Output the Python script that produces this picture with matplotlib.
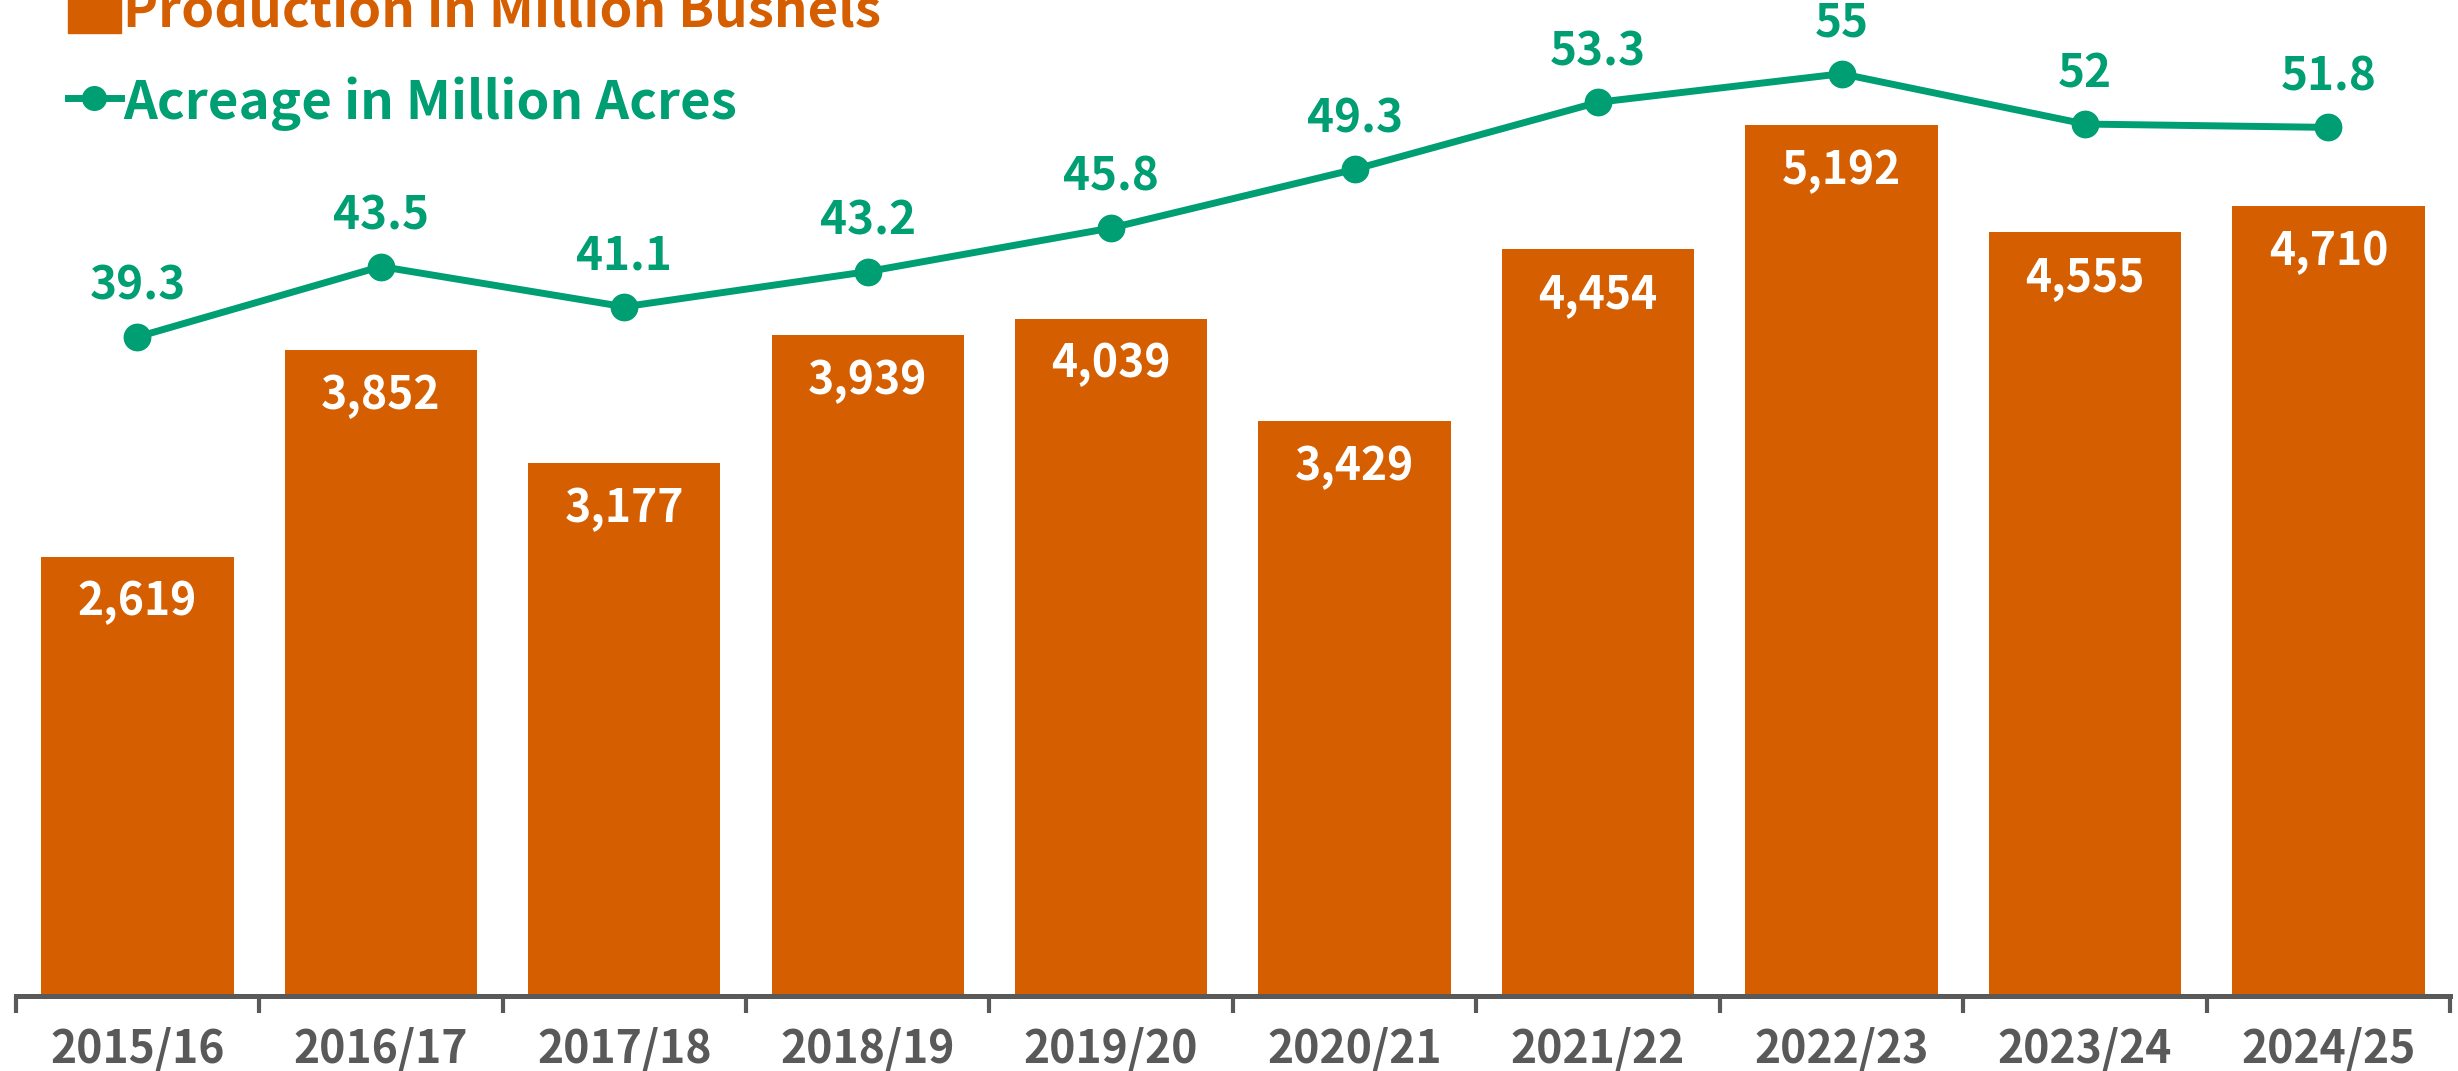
import matplotlib
matplotlib.use("Agg")
import matplotlib.pyplot as plt
from matplotlib.lines import Line2D
from matplotlib.patches import Patch

years = ["2015/16", "2016/17", "2017/18", "2018/19", "2019/20",
         "2020/21", "2021/22", "2022/23", "2023/24", "2024/25"]
production = [2619, 3852, 3177, 3939, 4039, 3429, 4454, 5192, 4555, 4710]
acreage = [39.3, 43.5, 41.1, 43.2, 45.8, 49.3, 53.3, 55, 52, 51.8]

orange = "#D55E00"
green = "#009E73"
grey = "#595959"

plt.rcParams["font.family"] = ["Noto Sans CJK JP", "DejaVu Sans"]
plt.rcParams["font.weight"] = "bold"

fig = plt.figure(figsize=(24.58, 10.71), dpi=100)
ax = fig.add_axes([10 / 1568, 48 / 683, 1553 / 1568, 635 / 683])
x = list(range(len(years)))

ax.bar(x, production, width=0.79, color=orange, zorder=2)
for xi, v in zip(x, production):
    ax.annotate(f"{v:,}", (xi, v), xytext=(0, -33), textcoords="offset points",
                ha="center", va="center", color="white", fontsize=32, fontweight="bold")

ax.set_xlim(-0.5, len(years) - 0.5)
ax.set_ylim(0, 5940)
for s in ["top", "right", "left"]:
    ax.spines[s].set_visible(False)
ax.spines["bottom"].set_color(grey)
ax.spines["bottom"].set_linewidth(3.6)
ax.set_yticks([])
ax.set_xticks(x)
ax.set_xticklabels(years, fontsize=32, color=grey, fontweight="bold")
ax.tick_params(axis="x", which="major", length=0, pad=22)
ax.set_xticks([i - 0.5 for i in range(len(years) + 1)], minor=True)
ax.tick_params(axis="x", which="minor", length=12, width=3, color=grey)

ax2 = ax.twinx()
ax2.set_ylim(0, 59.4)
ax2.axis("off")
ax2.plot(x, acreage, color=green, linewidth=5, marker="o", markersize=19, zorder=3)
for xi, v in zip(x, acreage):
    ax2.annotate(f"{v:g}", (xi, v), xytext=(0, 36), textcoords="offset points",
                 ha="center", va="center", color=green, fontsize=33, fontweight="bold")

handles = [Patch(color=orange, label="Production in Million Bushels"),
           Line2D([0], [0], color=green, linewidth=5, marker="o", markersize=17,
                  label="Acreage in Million Acres")]
leg = fig.legend(handles=handles, loc="upper left", bbox_to_anchor=(68 / 2458, 1.014),
                 frameon=False, fontsize=38, handlelength=1.0, handleheight=1.0,
                 handletextpad=0.05, labelspacing=0.72, borderaxespad=0, borderpad=0)
leg.get_texts()[0].set_color(orange)
leg.get_texts()[1].set_color(green)
for t in leg.get_texts():
    t.set_fontweight("bold")

fig.savefig("out.png", dpi=100)
